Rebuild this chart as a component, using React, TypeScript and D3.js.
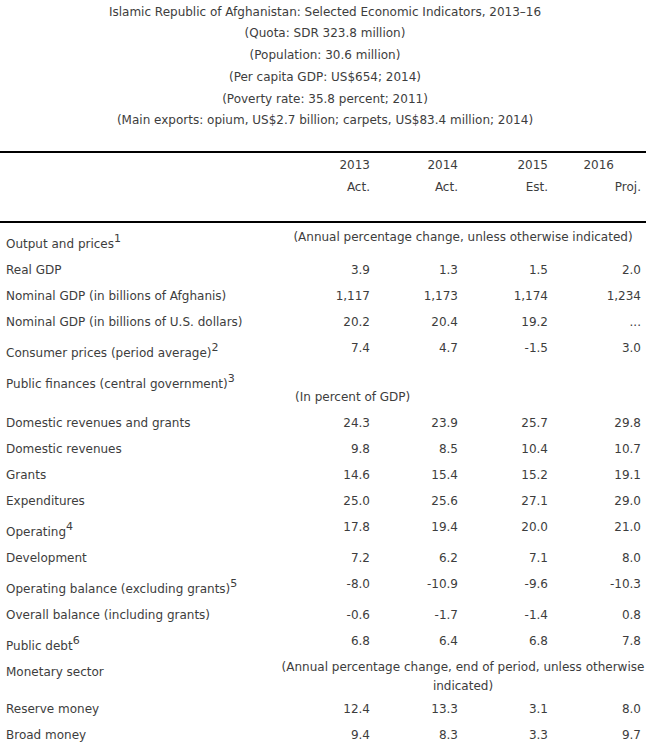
import React from "react";
import * as d3 from "d3";

// ---------- data ----------
const titleLines = [
  "Islamic Republic of Afghanistan: Selected Economic Indicators, 2013–16",
  "(Quota: SDR 323.8 million)",
  "(Population: 30.6 million)",
  "(Per capita GDP: US$654; 2014)",
  "(Poverty rate: 35.8 percent; 2011)",
  "(Main exports: opium, US$2.7 billion; carpets, US$83.4 million; 2014)",
];

const years = ["2013", "2014", "2015", "2016"];
const yearStatus = ["Act.", "Act.", "Est.", "Proj."];

const rowLabels = [
  "Output and prices",
  "Real GDP",
  "Nominal GDP (in billions of Afghanis)",
  "Nominal GDP (in billions of U.S. dollars)",
  "Consumer prices (period average)",
  "Public finances (central government)",
  "Domestic revenues and grants",
  "Domestic revenues",
  "Grants",
  "Expenditures",
  "Operating",
  "Development",
  "Operating balance (excluding grants)",
  "Overall balance (including grants)",
  "Public debt",
  "Monetary sector",
  "Reserve money",
  "Broad money",
];
const rowNotes = [1, null, null, null, 2, 3, null, null, null, null, 4, null, 5, null, 6, null, null, null];

const v2013 = [null, 3.9, 1117, 20.2, 7.4, null, 24.3, 9.8, 14.6, 25.0, 17.8, 7.2, -8.0, -0.6, 6.8, null, 12.4, 9.4];
const v2014 = [null, 1.3, 1173, 20.4, 4.7, null, 23.9, 8.5, 15.4, 25.6, 19.4, 6.2, -10.9, -1.7, 6.4, null, 13.3, 8.3];
const v2015 = [null, 1.5, 1174, 19.2, -1.5, null, 25.7, 10.4, 15.2, 27.1, 20.0, 7.1, -9.6, -1.4, 6.8, null, 3.1, 3.3];
const v2016 = [null, 2.0, 1234, "...", 3.0, null, 29.8, 10.7, 19.1, 29.0, 21.0, 8.0, -10.3, 0.8, 7.8, null, 8.0, 9.7];

const sectionRows = [0, 5, 15];
const sectionNotes = [
  ["(Annual percentage change, unless otherwise indicated)"],
  ["(In percent of GDP)"],
  ["(Annual percentage change, end of period, unless otherwise", "indicated)"],
];

// ---------- layout ----------
const W = 646;
const H = 747;
const FONT = "Verdana, 'DejaVu Sans', sans-serif";
const FS = 12;
const TEXT = "#3d3d3d";

const loc = d3.formatLocale({ decimal: ".", thousands: ",", grouping: [3], currency: ["$", ""], minus: "-" });
const fmt1 = loc.format(".1f");
const fmtK = loc.format(",.0f");
const fmtVal = (v: any) => (v == null ? "" : typeof v === "string" ? v : Math.abs(v) >= 1000 ? fmtK(v) : fmt1(v));

export default function App() {
  const colX = d3.scaleOrdinal<string, number>().domain(years).range([370, 458, 548, 641]);
  const headX = d3.scaleOrdinal<string, number>().domain(years).range([370, 458, 548, 614]);
  const cols = [v2013, v2014, v2015, v2016];

  // row heights: base 26, +5 when a footnote mark enlarges the line
  const heights = rowLabels.map((_, i) => {
    let h = 26;
    if (rowNotes[i] != null) h += 5;
    if (i === 5) h += 13;
    if (i === 15) h += 11;
    return h;
  });
  const top0 = 226;
  const tops = heights.map((_, i) => top0 + d3.sum(heights.slice(0, i)));

  const titleY = d3.scaleLinear().domain([0, 1]).range([11.5, 33.2]);

  return (
    <svg
      width={W}
      height={H}
      style={{ position: "absolute", left: 0, top: 0, background: "#fff" }}
      fontFamily={FONT}
      fontSize={FS}
      fill={TEXT}
    >
      <rect width={W} height={H} fill="#fff" />
      {titleLines.map((t, i) => (
        <text key={i} x={325} y={titleY(i)} dy="0.35em" textAnchor="middle">
          {t}
        </text>
      ))}

      <line x1={0} x2={W} y1={152} y2={152} stroke="#000" strokeWidth={2} />
      {years.map((y, j) => (
        <g key={y}>
          <text x={headX(y)} y={165} dy="0.35em" textAnchor="end">
            {y}
          </text>
          <text x={colX(y)} y={187} dy="0.35em" textAnchor="end">
            {yearStatus[j]}
          </text>
        </g>
      ))}
      <line x1={0} x2={W} y1={222} y2={222} stroke="#000" strokeWidth={2} />

      {rowLabels.map((lab, i) => {
        const t = tops[i];
        const hasNote = rowNotes[i] != null;
        const labelY = t + 13 + (hasNote ? 5 : 0);
        const valY = t + 13;
        return (
          <g key={i}>
            <text x={6} y={labelY} dy="0.35em">
              {lab}
              {hasNote && (
                <tspan fontSize={11} dy="-0.55em">
                  {rowNotes[i]}
                </tspan>
              )}
            </text>
            {years.map((y, j) => (
              <text key={y} x={colX(y)} y={valY} dy="0.35em" textAnchor="end">
                {fmtVal(cols[j][i])}
              </text>
            ))}
          </g>
        );
      })}

      {sectionRows.map((r, k) => {
        const t = tops[r];
        const lines = sectionNotes[k];
        if (r === 5) {
          return (
            <text key={k} x={295} y={t + 31} dy="0.35em">
              {lines[0]}
            </text>
          );
        }
        if (lines.length === 1) {
          return (
            <text key={k} x={463} y={t + 11} dy="0.35em" textAnchor="middle">
              {lines[0]}
            </text>
          );
        }
        return (
          <g key={k}>
            {lines.map((l, m) => (
              <text key={m} x={463} y={t + 8 + m * 19} dy="0.35em" textAnchor="middle">
                {l}
              </text>
            ))}
          </g>
        );
      })}
    </svg>
  );
}
